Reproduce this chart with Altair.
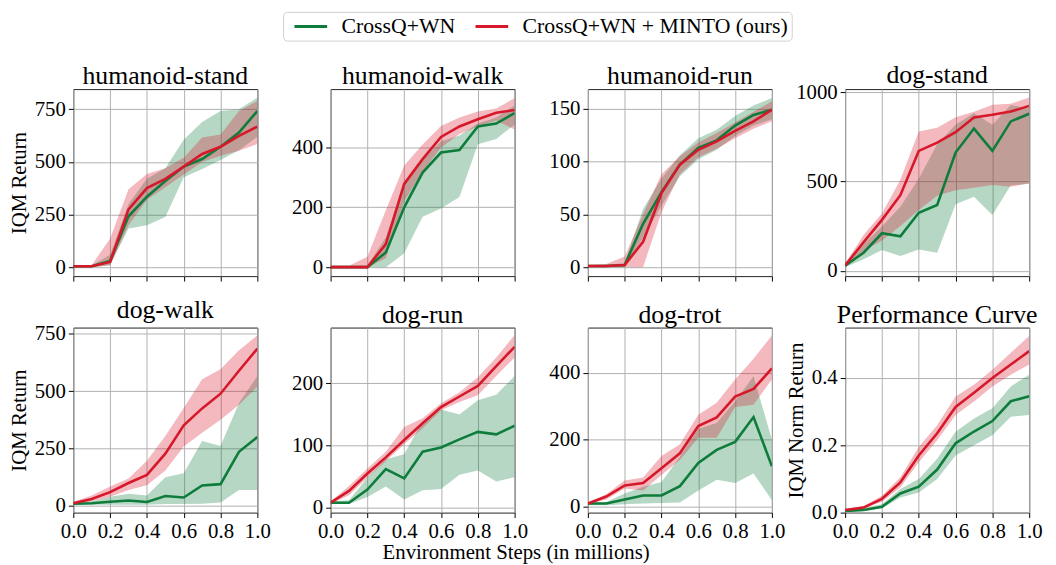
import altair as alt
import pandas as pd

x = [0.0, 0.1, 0.2, 0.3, 0.4, 0.5, 0.6, 0.7, 0.8, 0.9, 1.0]
methods = ["CrossQ+WN", "CrossQ+WN + MINTO (ours)"]

# humanoid-stand
hs_g = [5, 5, 30, 242, 335, 410, 478, 514, 572, 640, 742]
hs_g_lo = [0, 0, 10, 184, 200, 239, 428, 467, 509, 556, 620]
hs_g_hi = [10, 10, 60, 300, 420, 470, 605, 690, 742, 750, 805]
hs_r = [5, 5, 25, 275, 376, 420, 478, 538, 572, 624, 668]
hs_r_lo = [0, 0, 10, 200, 320, 380, 440, 500, 530, 553, 585]
hs_r_hi = [10, 10, 137, 370, 443, 470, 520, 616, 630, 742, 790]

# humanoid-walk
hw_g = [0, 0, 0, 49, 200, 316, 383, 391, 470, 480, 515]
hw_g_lo = [0, 0, 0, 0, 46, 168, 196, 234, 411, 428, 477]
hw_g_hi = [5, 5, 5, 100, 280, 360, 420, 440, 480, 500, 540]
hw_r = [0, 0, 0, 77, 278, 361, 435, 470, 494, 516, 525]
hw_r_lo = [0, 0, 0, 30, 220, 320, 400, 445, 470, 490, 460]
hw_r_hi = [5, 5, 35, 190, 340, 410, 472, 500, 520, 530, 565]

# humanoid-run
hr_g = [1, 1, 2, 41, 71, 97, 113, 120, 134, 144, 149]
hr_g_lo = [0, 0, 0, 28, 58, 86, 102, 111, 124, 134, 140]
hr_g_hi = [2, 2, 4, 55, 84, 106, 122, 130, 143, 153, 160]
hr_r = [1, 1, 2, 24, 70, 97, 111, 119, 129, 138, 149]
hr_r_lo = [0, 0, 0, 0, 52, 88, 104, 112, 122, 131, 138]
hr_r_hi = [2, 3, 10, 50, 88, 105, 118, 127, 137, 147, 157]

# dog-stand
ds_g = [28, 101, 210, 193, 325, 368, 662, 796, 671, 836, 879]
ds_g_lo = [20, 64, 116, 83, 119, 101, 373, 414, 312, 478, 487]
ds_g_hi = [40, 150, 248, 358, 515, 708, 818, 882, 818, 928, 910]
ds_r = [30, 160, 285, 423, 671, 717, 776, 858, 873, 891, 923]
ds_r_lo = [20, 110, 170, 250, 340, 420, 450, 465, 480, 470, 490]
ds_r_hi = [40, 200, 320, 510, 780, 800, 860, 890, 930, 935, 970]

# dog-walk
dw_g = [10, 12, 18, 24, 17, 43, 37, 89, 95, 236, 300]
dw_g_lo = [5, 5, 5, 5, 5, 8, 8, 10, 15, 70, 70]
dw_g_hi = [15, 20, 40, 53, 46, 125, 142, 283, 261, 448, 566]
dw_r = [12, 30, 60, 100, 135, 228, 351, 425, 489, 589, 685]
dw_r_lo = [8, 20, 40, 70, 90, 154, 259, 319, 376, 441, 520]
dw_r_hi = [18, 45, 85, 120, 197, 305, 427, 552, 596, 678, 743]

# dog-run
dr_g = [8, 8, 29, 62, 47, 90, 97, 110, 122, 118, 132]
dr_g_lo = [6, 6, 17, 34, 13, 28, 30, 53, 60, 42, 49]
dr_g_hi = [10, 12, 48, 78, 86, 139, 158, 150, 173, 182, 212]
dr_r = [8, 27, 55, 81, 109, 136, 162, 179, 196, 228, 259]
dr_r_lo = [6, 20, 48, 75, 102, 128, 157, 170, 181, 212, 242]
dr_r_hi = [10, 35, 63, 90, 130, 144, 168, 186, 210, 242, 278]

# dog-trot
dt_g = [10, 10, 22, 34, 34, 62, 131, 170, 194, 268, 121]
dt_g_lo = [5, 5, 8, 10, 12, 13, 49, 81, 71, 100, 20]
dt_g_hi = [12, 15, 40, 60, 74, 150, 233, 250, 315, 390, 200]
dt_r = [10, 31, 64, 71, 115, 160, 241, 267, 329, 352, 413]
dt_r_lo = [8, 22, 55, 49, 95, 140, 206, 206, 298, 305, 380]
dt_r_hi = [12, 38, 79, 88, 152, 187, 275, 311, 380, 442, 511]

# performance curve
pc_g = [0.005, 0.008, 0.017, 0.057, 0.077, 0.128, 0.206, 0.241, 0.272, 0.331, 0.346]
pc_g_lo = [0.002, 0.005, 0.012, 0.045, 0.06, 0.1, 0.17, 0.2, 0.23, 0.285, 0.29]
pc_g_hi = [0.008, 0.014, 0.025, 0.07, 0.1, 0.16, 0.24, 0.28, 0.31, 0.375, 0.41]
pc_r = [0.008, 0.015, 0.041, 0.09, 0.17, 0.236, 0.314, 0.356, 0.4, 0.44, 0.48]
pc_r_lo = [0.005, 0.012, 0.032, 0.075, 0.15, 0.215, 0.29, 0.33, 0.375, 0.41, 0.44]
pc_r_hi = [0.011, 0.02, 0.05, 0.105, 0.195, 0.26, 0.345, 0.38, 0.425, 0.475, 0.525]

panels = [
    ("humanoid-stand", (hs_g, hs_g_lo, hs_g_hi, hs_r, hs_r_lo, hs_r_hi), [-42, 846], [0, 250, 500, 750], "IQM Return"),
    ("humanoid-walk", (hw_g, hw_g_lo, hw_g_hi, hw_r, hw_r_lo, hw_r_hi), [-30, 595], [0, 200, 400], None),
    ("humanoid-run", (hr_g, hr_g_lo, hr_g_hi, hr_r, hr_r_lo, hr_r_hi), [-8.5, 168.5], [0, 50, 100, 150], None),
    ("dog-stand", (ds_g, ds_g_lo, ds_g_hi, ds_r, ds_r_lo, ds_r_hi), [-30, 1017], [0, 500, 1000], None),
    ("dog-walk", (dw_g, dw_g_lo, dw_g_hi, dw_r, dw_r_lo, dw_r_hi), [-29, 777], [0, 250, 500, 750], "IQM Return"),
    ("dog-run", (dr_g, dr_g_lo, dr_g_hi, dr_r, dr_r_lo, dr_r_hi), [-8, 290], [0, 100, 200], None),
    ("dog-trot", (dt_g, dt_g_lo, dt_g_hi, dt_r, dt_r_lo, dt_r_hi), [-17, 535], [0, 200, 400], None),
    ("Performance Curve", (pc_g, pc_g_lo, pc_g_hi, pc_r, pc_r_lo, pc_r_hi), [0, 0.55], [0.0, 0.2, 0.4], "IQM Norm Return"),
]

records = []
for name, (gm, glo, ghi, rm, rlo, rhi), _, _, _ in panels:
    for i, xv in enumerate(x):
        records.append({"env": name, "method": methods[0], "x": xv, "mean": gm[i], "lo": glo[i], "hi": ghi[i]})
    for i, xv in enumerate(x):
        records.append({"env": name, "method": methods[1], "x": xv, "mean": rm[i], "lo": rlo[i], "hi": rhi[i]})
df = pd.DataFrame(records)

line_colors = ["#0e7c3a", "#d7182a"]
FONT = "Liberation Serif"

legend = alt.Legend(
    title=None, orient="none", legendX=212, legendY=-78, direction="horizontal",
    symbolType="M-0.3,0H3", symbolSize=400, symbolStrokeWidth=3, symbolOpacity=1,
    labelFont=FONT, labelFontSize=22, labelColor="black", labelLimit=500,
    padding=3, strokeColor="#d0d0d0", cornerRadius=4, fillColor="white",
    columnPadding=11, labelOffset=33,
)
color_scale = alt.Scale(domain=methods, range=line_colors)


def panel(idx):
    name, _, domain, ticks, ytitle = panels[idx]
    top_row = idx < 4
    xtitle = None
    xaxis_kwargs = {}
    if name == "dog-run":
        xtitle = "Environment Steps (in millions)"
        xaxis_kwargs = dict(titleX=187, titleY=29, titleAlign="center", titleBaseline="top")
    xaxis = alt.Axis(values=[0, 0.2, 0.4, 0.6, 0.8, 1.0], format=".1f", labels=not top_row,
                     title=xtitle, labelFlush=False, labelOverlap=False, **xaxis_kwargs)
    yfmt = ".1f" if name == "Performance Curve" else "d"
    yaxis = alt.Axis(values=ticks, format=yfmt, title=ytitle, labelFlush=False, labelOverlap=False)
    yscale = alt.Scale(domain=domain, nice=False, zero=False)
    base = alt.Chart(df).transform_filter(alt.datum.env == name)
    xenc = alt.X("x:Q", scale=alt.Scale(domain=[0, 1], nice=False), axis=xaxis)
    band = base.mark_area(opacity=0.3, clip=True).encode(
        x=xenc,
        y=alt.Y("lo:Q", scale=yscale, axis=yaxis),
        y2="hi:Q",
        color=alt.Color("method:N", scale=color_scale, legend=legend),
    )
    line = base.mark_line(strokeWidth=2.6, clip=True).encode(
        x=xenc,
        y=alt.Y("mean:Q", scale=yscale, axis=yaxis),
        color=alt.Color("method:N", scale=color_scale, legend=legend),
        order="x:Q",
    )
    h = 189 if top_row else 187
    toff = -7 if name == "dog-stand" else 0
    return alt.layer(band, line).properties(
        width=186, height=h, title=alt.TitleParams(name, offset=toff)
    )


chart = alt.concat(
    *[panel(i) for i in range(8)], columns=4,
    spacing={"row": 52, "column": 74}, bounds="flush",
).resolve_scale(color="shared").resolve_legend(color="shared").properties(
    padding={"left": 0, "top": 0, "right": 5, "bottom": 0}
).configure_view(
    stroke="#222222", strokeWidth=1
).configure_axis(
    labelFont=FONT, titleFont=FONT, labelFontSize=21, titleFontSize=21,
    titleFontWeight="normal", labelColor="black", titleColor="black",
    tickColor="black", tickSize=5, domain=False, gridColor="#b0b0b0", gridWidth=1,
    labelPadding=3, titlePadding=5,
).configure_title(
    font=FONT, fontSize=26, fontWeight="normal", color="black"
)

chart.save("out.html", embed_options={"renderer": "svg", "actions": False})
